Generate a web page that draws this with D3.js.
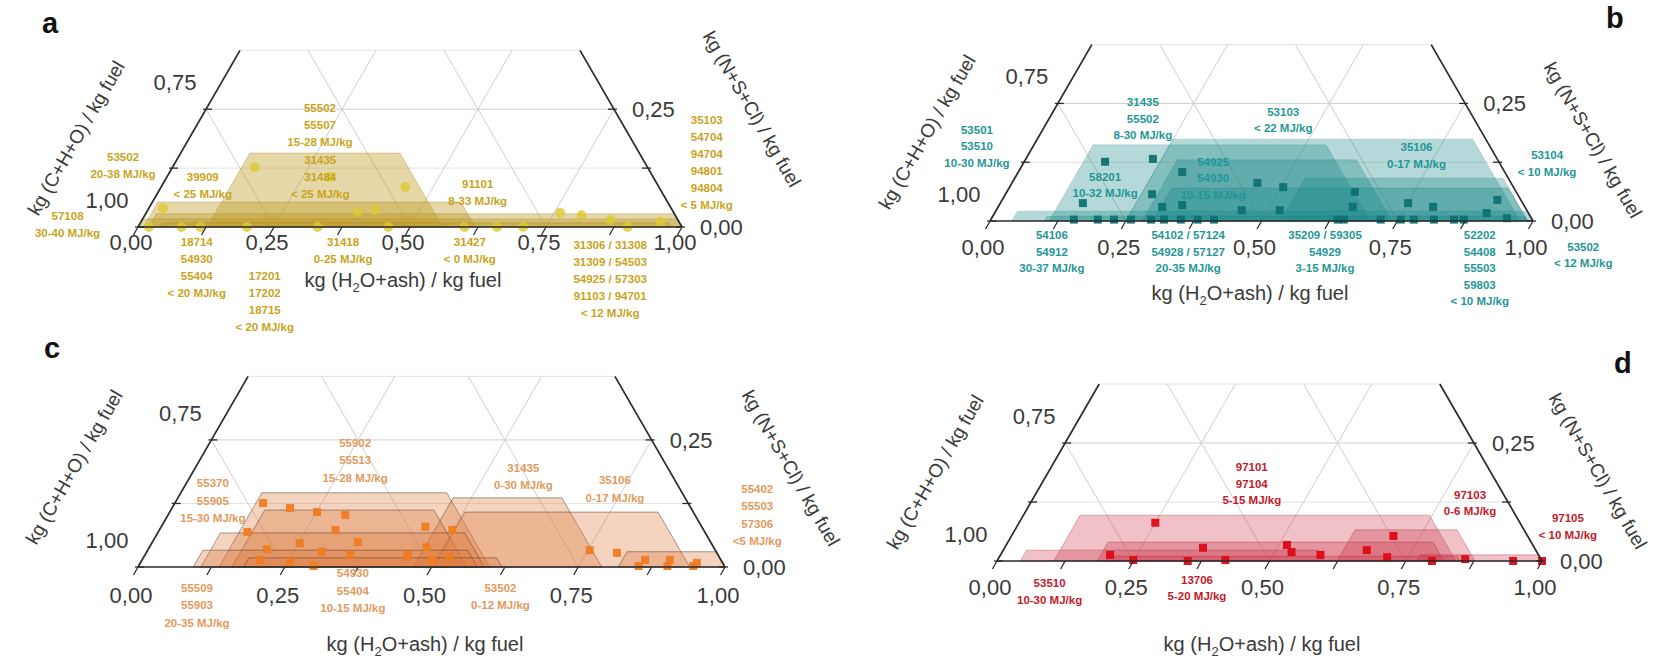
<!DOCTYPE html>
<html>
<head>
<meta charset="utf-8">
<script src="https://cdn.jsdelivr.net/npm/d3@7"></script>
<style>
  body { margin: 0; background: #fff; }
  svg { display: block; font-family: "Liberation Sans", Arial, sans-serif; }
</style>
</head>
<body>
<svg id="chart" width="1668" height="659"></svg>
<script>
// ---- axis values ----------------------------------------------------------
const bottomTicks = [0, 0.25, 0.5, 0.75, 1];
const bottomTickLabels = ["0,00", "0,25", "0,50", "0,75", "1,00"];
const leftTicks = [0, 0.25];            // N+S+Cl level on the left edge
const leftTickLabels = ["1,00", "0,75"]; // C+H+O read along the left edge
const rightTicks = [0, 0.25];
const rightTickLabels = ["0,00", "0,25"];
const minorStep = 0.125;
const topLevel = 0.375;                  // visible part of the ternary (N+S+Cl)

// ---- panel a : ranges [a(H2O+ash) left, a at base on right, top N+S+Cl] ----
const regionsA = [
  [0.127, 0.56, 0.157],
  [0.01, 0.62, 0.053],
  [0.02, 1.0, 0.028],
  [0.0, 1.0, 0.017],
  [0.04, 0.98, 0.009]
];
const pointsA = [
  [0.151, 0.127], [0.30, 0.106], [0.449, 0.085], [0.026, 0.040], [0.387, 0.032],
  [0.418, 0.036], [0.761, 0.030], [0.803, 0.025], [0.861, 0.015], [0.955, 0.011],
  [0.708, 0.0], [0.02, 0.0], [0.08, 0.0], [0.115, 0.0], [0.2, 0.0], [0.33, 0.0],
  [0.46, 0.0], [0.6, 0.0], [0.66, 0.0], [0.9, 0.0]
];
const labelsA = [
  { at: [0.208, 0.253], lines: ["55502", "55507", "15-28 MJ/kg"] },
  { at: [0.264, 0.142], lines: ["31435", "31484", "< 25 MJ/kg"] },
  { at: [-0.102, 0.149], lines: ["53502", "20-38 MJ/kg"] },
  { at: [0.066, 0.106], lines: ["39909", "< 25 MJ/kg"] },
  { at: [-0.141, 0.023], lines: ["57108", "30-40 MJ/kg"] },
  { at: [0.124, -0.032], lines: ["18714", "54930", "55404", "< 20 MJ/kg"] },
  { at: [0.285, -0.104], lines: ["17201", "17202", "18715", "< 20 MJ/kg"] },
  { at: [0.393, -0.032], lines: ["31418", "0-25 MJ/kg"] },
  { at: [0.579, 0.091], lines: ["91101", "8-33 MJ/kg"] },
  { at: [0.626, -0.032], lines: ["31427", "< 0 MJ/kg"] },
  { at: [0.887, -0.038], lines: ["31306 / 31308", "31309 / 54503", "54925 / 57303", "91103 / 94701", "< 12 MJ/kg"] },
  { at: [0.932, 0.227], lines: ["35103", "54704", "94704", "94801", "94804", "< 5 MJ/kg"] }
];

// ---- panel b ----------------------------------------------------------------
const regionsB = [
  [0.109, 0.70, 0.162],
  [0.25, 0.976, 0.174],
  [0.28, 0.74, 0.13],
  [0.535, 0.99, 0.091],
  [0.30, 0.99, 0.07],
  [0.04, 1.0, 0.021],
  [0.10, 0.99, 0.01]
];
const pointsB = [
  [0.149, 0.126], [0.234, 0.132], [0.302, 0.104], [0.27, 0.057], [0.152, 0.038],
  [0.302, 0.030], [0.337, 0.034], [0.452, 0.081], [0.452, 0.023], [0.504, 0.072],
  [0.522, 0.023], [0.641, 0.062], [0.653, 0.030], [0.751, 0.038], [0.801, 0.030],
  [0.912, 0.045], [0.906, 0.017], [0.949, 0.006],
  [0.153, 0.003], [0.197, 0.003], [0.227, 0.003], [0.258, 0.003], [0.295, 0.003],
  [0.319, 0.003], [0.35, 0.003], [0.381, 0.003], [0.411, 0.003], [0.639, 0.003],
  [0.65, 0.003], [0.718, 0.003], [0.755, 0.003], [0.779, 0.003], [0.816, 0.003],
  [0.853, 0.003], [0.871, 0.003]
];
const labelsB = [
  { at: [-0.121, 0.194], lines: ["53501", "53510", "10-30 MJ/kg"] },
  { at: [0.155, 0.253], lines: ["31435", "55502", "8-30 MJ/kg"] },
  { at: [0.165, 0.094], lines: ["58201", "10-32 MJ/kg"] },
  { at: [0.348, 0.126], lines: ["54925", "54930", "10-15 MJ/kg"] },
  { at: [0.424, 0.232], lines: ["53103", "< 22 MJ/kg"] },
  { at: [0.707, 0.157], lines: ["35106", "0-17 MJ/kg"] },
  { at: [0.956, 0.140], lines: ["53104", "< 10 MJ/kg"] },
  { at: [0.129, -0.030], lines: ["54106", "54912", "30-37 MJ/kg"] },
  { at: [0.38, -0.030], lines: ["54102 / 57124", "54928 / 57127", "20-35 MJ/kg"] },
  { at: [0.632, -0.030], lines: ["35209 / 59305", "54929", "3-15 MJ/kg"] },
  { at: [0.917, -0.030], lines: ["52202", "54408", "55503", "59803", "< 10 MJ/kg"] },
  { at: [1.12, -0.055], lines: ["53502", "< 12 MJ/kg"] }
];

// ---- panel c ----------------------------------------------------------------
const regionsC = [
  [0.138, 0.599, 0.146],
  [0.469, 0.79, 0.136],
  [0.16, 0.56, 0.112],
  [0.503, 0.94, 0.108],
  [0.107, 0.59, 0.067],
  [0.094, 0.578, 0.033],
  [0.818, 1.0, 0.030],
  [0.18, 0.62, 0.018]
];
const pointsC = [
  [0.150, 0.126], [0.201, 0.116], [0.251, 0.108], [0.302, 0.102], [0.152, 0.069],
  [0.30, 0.073], [0.252, 0.047], [0.35, 0.049], [0.202, 0.035], [0.298, 0.030],
  [0.349, 0.024], [0.201, 0.014], [0.254, 0.010], [0.298, 0.002], [0.448, 0.024],
  [0.45, 0.079], [0.499, 0.073], [0.472, 0.039], [0.521, 0.020], [0.448, 0.020],
  [0.494, 0.014], [0.753, 0.033], [0.802, 0.028], [0.857, 0.014], [0.899, 0.014],
  [0.948, 0.008], [0.852, 0.002], [0.901, 0.002], [0.945, 0.002]
];
const labelsC = [
  { at: [0.248, 0.244], lines: ["55902", "55513", "15-28 MJ/kg"] },
  { at: [0.045, 0.165], lines: ["55370", "55905", "15-30 MJ/kg"] },
  { at: [0.559, 0.195], lines: ["31435", "0-30 MJ/kg"] },
  { at: [0.727, 0.171], lines: ["35106", "0-17 MJ/kg"] },
  { at: [0.978, 0.154], lines: ["55402", "55503", "57306", "<5 MJ/kg"] },
  { at: [0.121, -0.041], lines: ["55509", "55903", "20-35 MJ/kg"] },
  { at: [0.372, -0.012], lines: ["54930", "55404", "10-15 MJ/kg"] },
  { at: [0.638, -0.041], lines: ["53502", "0-12 MJ/kg"] }
];

// ---- panel d ----------------------------------------------------------------
const regionsD = [
  [0.104, 0.842, 0.097],
  [0.624, 0.877, 0.066],
  [0.184, 0.82, 0.040],
  [0.043, 0.60, 0.023],
  [0.77, 1.0, 0.013],
  [0.20, 0.85, 0.010]
];
const pointsD = [
  [0.25, 0.081], [0.201, 0.013], [0.249, 0.002], [0.364, 0.028], [0.350, 0.0],
  [0.418, 0.002], [0.515, 0.034], [0.531, 0.019], [0.587, 0.013], [0.667, 0.023],
  [0.712, 0.008], [0.701, 0.053], [0.798, 0.0], [0.857, 0.004], [0.947, 0.0],
  [1.0, 0.0]
];
const labelsD = [
  { at: [0.12, -0.047], lines: ["53510", "10-30 MJ/kg"] },
  { at: [0.387, -0.040], lines: ["13706", "5-20 MJ/kg"] },
  { at: [0.368, 0.199], lines: ["97101", "97104", "5-15 MJ/kg"] },
  { at: [0.798, 0.140], lines: ["97103", "0-6 MJ/kg"] },
  { at: [1.002, 0.091], lines: ["97105", "< 10 MJ/kg"] }
];

// ---- layout and styling of the four panels ------------------------------------
const panels = [
  { key: "a", x0: 138, y0: 227, W: 544, tickDy: 23, lineH: 17,
    letter: [42, 33], bottomTitle: [403, 287], leftTitle: [76, 138], rightTitle: [752, 109],
    regions: regionsA, points: pointsA, labels: labelsA,
    text: "#c9a41c", fill: "#bf9b26", fillOp: 0.4, stroke: "#9c7d1c", strokeOp: 0.35,
    mark: "circle", markFill: "#dccb33", markOp: 0.8 },
  { key: "b", x0: 990, y0: 221, W: 543, tickDy: 34, lineH: 16.5,
    letter: [1606, 28], bottomTitle: [1250, 300], leftTitle: [927, 132], rightTitle: [1593, 140],
    regions: regionsB, points: pointsB, labels: labelsB,
    text: "#1f9797", fill: "#1a8888", fillOp: 0.32, stroke: "#106868", strokeOp: 0.2,
    mark: "square", markFill: "#0f7272", markOp: 0.95 },
  { key: "c", x0: 138, y0: 567, W: 587, tickDy: 36, lineH: 17.5,
    letter: [44, 358], bottomTitle: [425, 651], leftTitle: [74, 467], rightTitle: [791, 468],
    regions: regionsC, points: pointsC, labels: labelsC,
    text: "#e39a5c", fill: "#dd7a3e", fillOp: 0.33, stroke: "#4d3a30", strokeOp: 0.55,
    mark: "square", markFill: "#ee7c22", markOp: 0.95 },
  { key: "d", x0: 997, y0: 561, W: 545, tickDy: 34, lineH: 16.5,
    letter: [1614, 373], bottomTitle: [1262, 651], leftTitle: [935, 472], rightTitle: [1598, 471],
    regions: regionsD, points: pointsD, labels: labelsD,
    text: "#c41a2a", fill: "#cc3344", fillOp: 0.3, stroke: "#9a1a28", strokeOp: 0.35,
    mark: "square", markFill: "#dc0a16", markOp: 0.95 }
];

const svg = d3.select("#chart");
const SIN60 = Math.sqrt(3) / 2;
const axisColor = "#2a2a2a";
const labelColor = "#3a3a3a";

function drawPanel(p) {
  const g = svg.append("g").attr("class", "panel-" + p.key);
  const xs = d3.scaleLinear().domain([0, 1]).range([p.x0, p.x0 + p.W]);
  const ys = d3.scaleLinear().domain([0, 1]).range([p.y0, p.y0 - p.W * SIN60]);
  // a = H2O+ash, c = N+S+Cl, C+H+O = 1 - a - c
  const P = (a, c) => [xs(a + c / 2), ys(c)];
  const line = d3.line();

  // grid
  const grid = g.append("g").attr("stroke", "#cfcfcf").attr("stroke-width", 1).attr("fill", "none");
  [minorStep, 2 * minorStep, topLevel].forEach(c => {
    grid.append("path").attr("d", line([P(0, c), P(1 - c, c)]))
      .attr("stroke-opacity", c === 0.25 ? 1 : 0.6);
  });
  [0.25, 0.5, 0.75].forEach(a => {
    const cEnd = Math.min(topLevel, 1 - a);
    grid.append("path").attr("d", line([P(a, 0), P(a, cEnd)]));
  });
  [0.25, 0.5, 0.75].forEach(b => {
    const cEnd = Math.min(topLevel, 1 - b);
    grid.append("path").attr("d", line([P(1 - b, 0), P(1 - b - cEnd, cEnd)]));
  });

  // fuel ranges
  g.append("g").selectAll("path").data(p.regions).join("path")
    .attr("d", r => line([P(r[0], 0), P(r[1], 0), P(r[1] - r[2], r[2]), P(r[0], r[2])]) + "Z")
    .attr("fill", p.fill).attr("fill-opacity", p.fillOp)
    .attr("stroke", p.stroke).attr("stroke-opacity", p.strokeOp).attr("stroke-width", 0.9);

  // fuels
  const marks = g.append("g");
  if (p.mark === "circle") {
    marks.selectAll("circle").data(p.points).join("circle")
      .attr("cx", d => P(d[0], d[1])[0]).attr("cy", d => P(d[0], d[1])[1])
      .attr("r", 5).attr("fill", p.markFill).attr("fill-opacity", p.markOp);
  } else {
    const s = 8;
    marks.selectAll("rect").data(p.points).join("rect")
      .attr("x", d => P(d[0], d[1])[0] - s / 2).attr("y", d => P(d[0], d[1])[1] - s / 2)
      .attr("width", s).attr("height", s).attr("fill", p.markFill).attr("fill-opacity", p.markOp);
  }

  // axes
  const ax = g.append("g").attr("stroke", axisColor).attr("stroke-width", 1.7).attr("fill", "none");
  ax.append("path").attr("d", line([P(0, 0), P(1, 0)]));
  ax.append("path").attr("d", line([P(0, 0), P(0, topLevel)]));
  ax.append("path").attr("d", line([P(1, 0), P(1 - topLevel, topLevel)]));

  const ticks = g.append("g").attr("stroke", axisColor).attr("stroke-width", 1.3);
  d3.range(0, 1.0001, minorStep).forEach(a => {
    const [x, y] = P(a, 0);
    ticks.append("line").attr("x1", x).attr("y1", y).attr("x2", x - 4.5).attr("y2", y + 8);
  });
  [0, minorStep, 2 * minorStep].forEach(c => {
    const [xl, yl] = P(0, c);
    ticks.append("line").attr("x1", xl - 3).attr("y1", yl).attr("x2", xl + 6).attr("y2", yl);
    const [xr, yr] = P(1 - c, c);
    ticks.append("line").attr("x1", xr - 6).attr("y1", yr).attr("x2", xr + 3).attr("y2", yr);
  });

  // tick labels
  const tl = g.append("g").attr("fill", labelColor).attr("font-size", 22);
  bottomTicks.forEach((a, i) => {
    const [x, y] = P(a, 0);
    tl.append("text").attr("x", x - 7).attr("y", y + p.tickDy)
      .attr("text-anchor", "middle").text(bottomTickLabels[i]);
  });
  leftTicks.forEach((c, i) => {
    const [x, y] = P(0, c);
    tl.append("text").attr("x", x - 31).attr("y", y - 19)
      .attr("text-anchor", "middle").text(leftTickLabels[i]);
  });
  rightTicks.forEach((c, i) => {
    const [x, y] = P(1 - c, c);
    tl.append("text").attr("x", x + 18).attr("y", y + 8).text(rightTickLabels[i]);
  });

  // axis titles
  const bt = g.append("text").attr("x", p.bottomTitle[0]).attr("y", p.bottomTitle[1])
    .attr("text-anchor", "middle").attr("font-size", 20).attr("fill", labelColor);
  bt.append("tspan").text("kg (H");
  bt.append("tspan").attr("font-size", 13).attr("dy", 5).text("2");
  bt.append("tspan").attr("dy", -5).text("O+ash) / kg fuel");

  g.append("text").attr("transform", `translate(${p.leftTitle[0]},${p.leftTitle[1]}) rotate(-60)`)
    .attr("text-anchor", "middle").attr("dy", "0.35em").attr("font-size", 19).attr("fill", labelColor)
    .text("kg (C+H+O) / kg fuel");
  g.append("text").attr("transform", `translate(${p.rightTitle[0]},${p.rightTitle[1]}) rotate(60)`)
    .attr("text-anchor", "middle").attr("dy", "0.35em").attr("font-size", 19).attr("fill", labelColor)
    .text("kg (N+S+Cl) / kg fuel");

  // panel letter
  g.append("text").attr("x", p.letter[0]).attr("y", p.letter[1])
    .attr("font-size", 29).attr("font-weight", "bold").attr("fill", "#111").text(p.key);

  // fuel code annotations
  const ann = g.append("g").attr("fill", p.text).attr("font-size", 11.5)
    .attr("font-weight", "bold").attr("text-anchor", "middle");
  p.labels.forEach(l => {
    const [x, y] = P(l.at[0], l.at[1]);
    const t = ann.append("text").attr("x", x).attr("y", y + 4);
    l.lines.forEach((s, i) => {
      t.append("tspan").attr("x", x).attr("dy", i === 0 ? 0 : p.lineH).text(s);
    });
  });
}

panels.forEach(drawPanel);
</script>
</body>
</html>
